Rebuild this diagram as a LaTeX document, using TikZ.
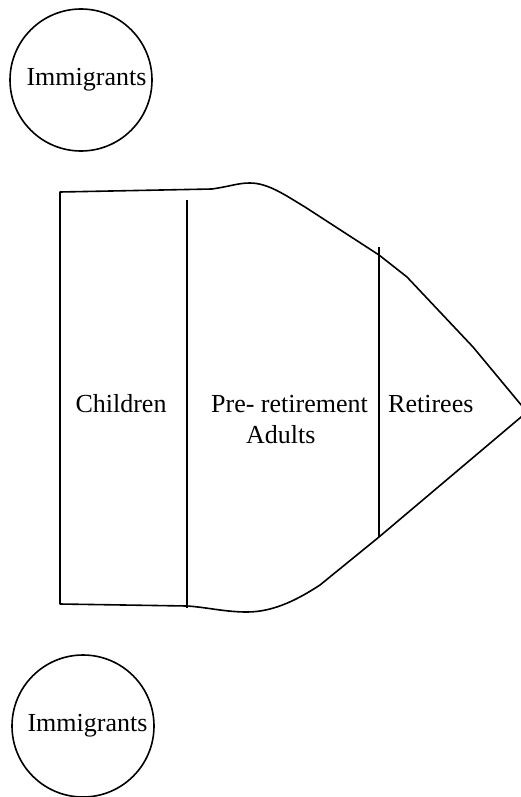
\documentclass[tikz,border=0pt]{standalone}
\usepackage{fontspec}
\setmainfont{Liberation Serif}
\begin{document}
\begin{tikzpicture}[x=1pt,y=-1pt,
  outline/.style={line width=1.6pt, line join=round},
  pop/.style={draw, circle, line width=1.6pt, minimum size=142pt, inner sep=0pt, font=\fontsize{26}{31}\selectfont},
  lbl/.style={inner sep=0pt, font=\fontsize{26}{31}\selectfont}]
\useasboundingbox (0,0) rectangle (521,797);
% immigrants
\node[pop] (imtop) at (81,80) {\hspace*{11pt}Immigrants};
\node[pop] (imbot) at (83,726) {\hspace*{9pt}Immigrants};
% population shape
\draw[outline] (60,604) -- (60,192) -- (212,189)
  .. controls (232,186) and (238,183) .. (250,183)
  .. controls (268,183) and (285,195) .. (305,207)
  -- (379,255) -- (407,277) -- (473,347) -- (527,412)
  -- (379,537) -- (320,585)
  .. controls (300,598) and (275,612) .. (247,612)
  .. controls (225,612) and (205,607) .. (187,606) -- cycle;
% dividers
\coordinate (d1t) at (187,200);
\coordinate (d1b) at (187,608);
\coordinate (d2t) at (379,247);
\coordinate (d2b) at (379,537);
\draw[outline] (d1t) -- (d1b);
\draw[outline] (d2t) -- (d2b);
% labels
\node[lbl, anchor=base] (children) at (121,412) {Children};
\node[lbl, anchor=base east] (pre) at (368,412) {Pre- retirement};
\node[lbl, anchor=base west] (adults) at (246,443) {Adults};
\node[lbl, anchor=base west] (ret) at (388,412) {Retirees};
\end{tikzpicture}
\end{document}
